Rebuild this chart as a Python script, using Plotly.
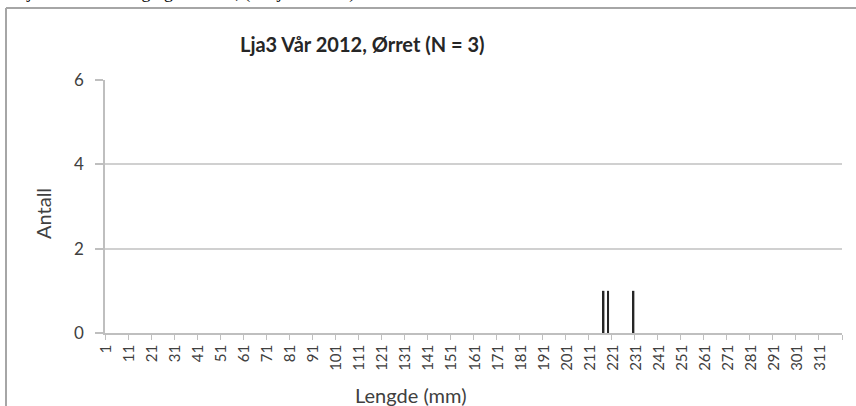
import plotly.graph_objects as go

# fish lengths (mm) and how many fish had each length
lengths_mm = [217, 219, 230]
counts = [1, 1, 1]

x_tick_labels = ["1", "11", "21", "31", "41", "51", "61", "71", "81", "91",
                 "101", "111", "121", "131", "141", "151", "161", "171", "181", "191",
                 "201", "211", "221", "231", "241", "251", "261", "271", "281", "291",
                 "301", "311"]
y_ticks = [0, 2, 4, 6]

title = "Lja3 Vår 2012, Ørret (N = 3)"
x_title = "Lengde (mm)"
y_title = "Antall"
doc_line = "Lja. Se vannføring og dato der, (stasjon er vist)."

W, H = 856, 406
L, R, T, B = 105, 14, 80, 73
pw, ph = W - L - R, H - T - B


def px_x(x):
    return (x - L) / pw


def px_y(y):
    return (H - B - y) / ph


font = "Lato, 'Open Sans', sans-serif"
grey_txt = "#404040"

fig = go.Figure()
fig.add_trace(go.Bar(
    x=lengths_mm, y=counts, width=0.7,
    marker=dict(color="#262626", line=dict(width=0)),
    hoverinfo="x+y",
))

fig.update_layout(
    width=W, height=H,
    margin=dict(l=L, r=R, t=T, b=B, autoexpand=False),
    paper_bgcolor="white", plot_bgcolor="white",
    showlegend=False,
    font=dict(family=font, color=grey_txt, size=15),
    xaxis=dict(
        range=[0.5, 320.5],
        tickvals=[int(v) for v in x_tick_labels],
        ticktext=x_tick_labels,
        tickangle=-90,
        ticks="",
        ticklabelstandoff=4,
        tickfont=dict(size=15, color=grey_txt),
        minor=dict(tick0=0.5, dtick=10, ticks="outside", ticklen=5,
                   tickcolor="#bfbfbf", tickwidth=1),
        showgrid=False, zeroline=False,
        showline=True, linecolor="#bfbfbf", linewidth=1.5,
        automargin=False,
    ),
    yaxis=dict(
        range=[0, 6],
        tickvals=y_ticks,
        ticks="outside", ticklen=8, tickcolor="#bfbfbf", tickwidth=1.5,
        ticklabelstandoff=8,
        tickfont=dict(size=17, color=grey_txt),
        showgrid=True, gridcolor="#d0d0d0", gridwidth=2,
        zeroline=False,
        showline=True, linecolor="#bfbfbf", linewidth=1.5,
        automargin=False,
    ),
)

fig.add_annotation(
    text="<b>" + title + "</b>", xref="paper", yref="paper",
    x=px_x(362), y=px_y(44), xanchor="center", yanchor="middle",
    showarrow=False, font=dict(size=20, color="#262626", family=font),
)
fig.add_annotation(
    text=x_title, xref="paper", yref="paper",
    x=px_x(410), y=px_y(395), xanchor="center", yanchor="middle",
    showarrow=False, font=dict(size=20, color=grey_txt, family=font),
)
fig.add_annotation(
    text=y_title, xref="paper", yref="paper", textangle=-90,
    x=px_x(43), y=px_y(213), xanchor="center", yanchor="middle",
    showarrow=False, font=dict(size=20, color=grey_txt, family=font),
)

# cut-off line of document text above the chart frame
fig.add_annotation(
    text=doc_line, xref="paper", yref="paper",
    x=px_x(14), y=px_y(5), xanchor="left", yanchor="bottom",
    showarrow=False, font=dict(size=18, color="black", family="Liberation Serif, serif"),
)

# chart frame (top and left edges)
fig.add_shape(type="line", xref="paper", yref="paper",
              x0=px_x(6), x1=px_x(W + 5), y0=px_y(8), y1=px_y(8),
              line=dict(color="#a6a6a6", width=2))
fig.add_shape(type="line", xref="paper", yref="paper",
              x0=px_x(6), x1=px_x(6), y0=px_y(8), y1=px_y(H + 5),
              line=dict(color="#a6a6a6", width=2))

fig.write_html("out.html", config={"displayModeBar": False},
               post_script="document.body.style.margin='0';")
